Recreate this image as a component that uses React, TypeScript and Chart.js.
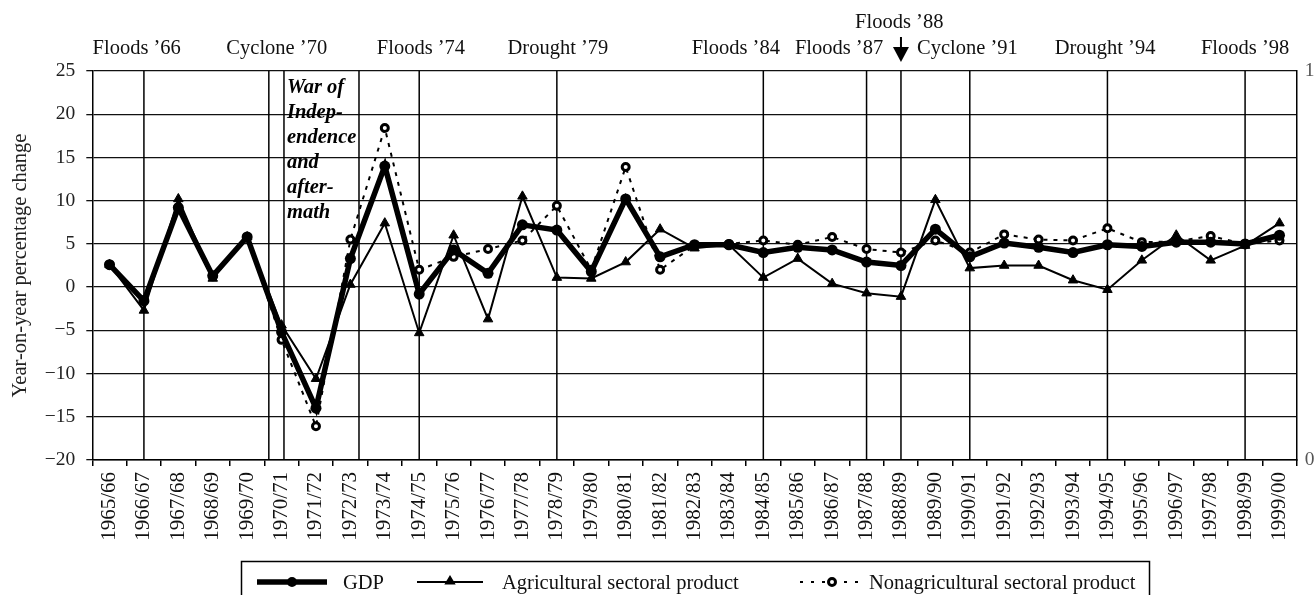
import React, { useEffect, useRef } from 'react';
import { Chart, registerables } from 'chart.js';

Chart.register(...registerables);

// ---------- data ----------
const categories = [
  '1965/66', '1966/67', '1967/68', '1968/69', '1969/70', '1970/71', '1971/72',
  '1972/73', '1973/74', '1974/75', '1975/76', '1976/77', '1977/78', '1978/79',
  '1979/80', '1980/81', '1981/82', '1982/83', '1983/84', '1984/85', '1985/86',
  '1986/87', '1987/88', '1988/89', '1989/90', '1990/91', '1991/92', '1992/93',
  '1993/94', '1994/95', '1995/96', '1996/97', '1997/98', '1998/99', '1999/00',
];

const gdp = [
  2.6, -1.6, 9.2, 1.3, 5.8, -5.2, -14.0, 3.3, 14.0, -0.8, 4.3, 1.6, 7.2, 6.6,
  1.8, 10.2, 3.5, 4.9, 4.9, 4.0, 4.6, 4.3, 2.9, 2.5, 6.7, 3.5, 5.1, 4.6, 4.0,
  4.9, 4.7, 5.2, 5.2, 5.0, 6.0,
];

const agricultural = [
  2.6, -2.7, 10.2, 1.0, 5.8, -4.4, -10.6, 0.3, 7.4, -5.3, 6.0, -3.7, 10.5, 1.1,
  1.0, 2.9, 6.7, 4.5, 4.9, 1.1, 3.3, 0.4, -0.7, -1.1, 10.1, 2.2, 2.5, 2.5, 0.8,
  -0.3, 3.1, 6.0, 3.1, 4.8, 7.4,
];

const nonagricultural = [
  2.6, -1.5, 9.2, 1.3, 5.8, -6.1, -16.1, 5.5, 18.4, 2.0, 3.5, 4.4, 5.4, 9.4,
  2.0, 13.9, 2.0, 4.8, 5.0, 5.4, 4.9, 5.8, 4.4, 4.0, 5.4, 4.0, 6.1, 5.5, 5.4,
  6.8, 5.2, 5.3, 5.9, 5.0, 5.4,
];

const seriesNames = ['GDP', 'Agricultural sectoral product', 'Nonagricultural sectoral product'];

const yMin = -20;
const yMax = 25;
const yStep = 5;

// events: label text, (fractional) category index of the vertical line, label centre index, row
const eventLabels = [
  'Floods ’66', 'Cyclone ’70', 'Floods ’74', 'Drought ’79', 'Floods ’84',
  'Floods ’87', 'Floods ’88', 'Cyclone ’91', 'Drought ’94', 'Floods ’98',
];
const eventLineIndex = [1, 4.63, 9, 13, 19, 22, 23, 25, 29, 33];
const eventLabelIndex = [0.79, 4.86, 9.05, 13.03, 18.2, 21.2, 22.95, 24.93, 28.93, 33.0];
const eventLabelRow = [1, 1, 1, 1, 1, 1, 0, 1, 1, 1];
const arrowEventIndex = 23;

const warLineIndex = [5.07, 7.25];
const warText = ['War of', 'Indep-', 'endence', 'and', 'after-', 'math'];

const FONT = '"Liberation Serif", "Times New Roman", serif';

function drawTriangle(ctx: CanvasRenderingContext2D, cx: number, cy: number, r: number) {
  ctx.beginPath();
  ctx.moveTo(cx, cy - r);
  ctx.lineTo(cx + r * 0.95, cy + r * 0.6);
  ctx.lineTo(cx - r * 0.95, cy + r * 0.6);
  ctx.closePath();
  ctx.fill();
}

const annotationPlugin = {
  id: 'annotations',
  beforeDatasetsDraw(chart: any) {
    const { ctx, chartArea, scales } = chart;
    const xs = scales.x;
    ctx.save();
    ctx.strokeStyle = '#000';
    ctx.lineWidth = 1.5;
    [...eventLineIndex, ...warLineIndex].forEach((v) => {
      const px = xs.getPixelForValue(v);
      ctx.beginPath();
      ctx.moveTo(px, chartArea.top);
      ctx.lineTo(px, chartArea.bottom);
      ctx.stroke();
    });
    ctx.fillStyle = '#000';
    ctx.font = `italic bold 20.5px ${FONT}`;
    ctx.textAlign = 'left';
    ctx.textBaseline = 'middle';
    const wx = xs.getPixelForValue(warLineIndex[0]) + 3;
    warText.forEach((t, i) => ctx.fillText(t, wx, chartArea.top + 17 + i * 25));
    ctx.restore();
  },
  afterDraw(chart: any) {
    const { ctx, chartArea, scales } = chart;
    const xs = scales.x;
    ctx.save();
    ctx.fillStyle = '#111';
    ctx.strokeStyle = '#000';
    // event labels
    ctx.font = `20.5px ${FONT}`;
    ctx.textAlign = 'center';
    ctx.textBaseline = 'middle';
    eventLabels.forEach((t, i) => {
      const px = xs.getPixelForValue(eventLabelIndex[i]);
      const py = eventLabelRow[i] === 0 ? chartArea.top - 48 : chartArea.top - 22;
      ctx.fillText(t, px, py);
    });
    // arrow for Floods '88
    const ax = xs.getPixelForValue(arrowEventIndex);
    ctx.fillStyle = '#000';
    ctx.lineWidth = 2;
    ctx.beginPath();
    ctx.moveTo(ax, chartArea.top - 34);
    ctx.lineTo(ax, chartArea.top - 22);
    ctx.stroke();
    ctx.beginPath();
    ctx.moveTo(ax - 8, chartArea.top - 24);
    ctx.lineTo(ax + 8, chartArea.top - 24);
    ctx.lineTo(ax, chartArea.top - 9);
    ctx.closePath();
    ctx.fill();

    // y-axis title
    ctx.save();
    ctx.fillStyle = '#222';
    ctx.font = `20.5px ${FONT}`;
    ctx.translate(20.5, (chartArea.top + chartArea.bottom) / 2 + 0);
    ctx.rotate(-Math.PI / 2);
    ctx.textAlign = 'center';
    ctx.textBaseline = 'middle';
    ctx.fillText('Year-on-year percentage change', 0, 0);
    ctx.restore();

    // legend
    const ly = 582;
    ctx.lineWidth = 1.5;
    ctx.strokeStyle = '#000';
    ctx.strokeRect(241.5, 561.5, 908, 50);
    ctx.fillStyle = '#000';
    // GDP swatch
    ctx.lineWidth = 5.5;
    ctx.beginPath();
    ctx.moveTo(257, ly);
    ctx.lineTo(327, ly);
    ctx.stroke();
    ctx.beginPath();
    ctx.arc(292, ly, 5, 0, Math.PI * 2);
    ctx.fill();
    // Agri swatch
    ctx.lineWidth = 2;
    ctx.beginPath();
    ctx.moveTo(417, ly);
    ctx.lineTo(483, ly);
    ctx.stroke();
    drawTriangle(ctx, 450, ly - 1, 6);
    // Nonagri swatch
    ctx.setLineDash([3, 8]);
    ctx.beginPath();
    ctx.moveTo(800, ly);
    ctx.lineTo(864, ly);
    ctx.stroke();
    ctx.setLineDash([]);
    ctx.beginPath();
    ctx.arc(832, ly, 3.5, 0, Math.PI * 2);
    ctx.fillStyle = '#fff';
    ctx.fill();
    ctx.lineWidth = 3;
    ctx.stroke();
    // legend texts
    ctx.fillStyle = '#111';
    ctx.font = `20.5px ${FONT}`;
    ctx.textAlign = 'left';
    ctx.textBaseline = 'middle';
    ctx.fillText(seriesNames[0], 343, ly + 2);
    ctx.fillText(seriesNames[1], 502, ly + 2);
    ctx.fillText(seriesNames[2], 869, ly + 2);
    ctx.restore();
  },
};

export default function App() {
  const canvasRef = useRef<HTMLCanvasElement | null>(null);

  useEffect(() => {
    if (!canvasRef.current) return;
    const chart = new Chart(canvasRef.current, {
      type: 'line',
      data: {
        labels: categories,
        datasets: [
          {
            label: seriesNames[0],
            data: gdp,
            borderColor: '#000',
            borderWidth: 5.5,
            pointRadius: 5.5,
            pointBackgroundColor: '#000',
            pointBorderColor: '#000',
            pointBorderWidth: 0,
            pointStyle: 'circle',
            tension: 0,
            yAxisID: 'y',
          },
          {
            label: seriesNames[1],
            data: agricultural,
            borderColor: '#000',
            borderWidth: 2,
            pointRadius: 5.5,
            pointStyle: 'triangle',
            pointBackgroundColor: '#000',
            pointBorderColor: '#000',
            pointBorderWidth: 1,
            tension: 0,
            yAxisID: 'y',
          },
          {
            label: seriesNames[2],
            data: nonagricultural,
            borderColor: '#000',
            borderWidth: 2,
            borderDash: [4, 6],
            pointRadius: 3.5,
            pointStyle: 'circle',
            pointBackgroundColor: '#fff',
            pointBorderColor: '#000',
            pointBorderWidth: 3,
            tension: 0,
            yAxisID: 'y',
          },
        ],
      },
      options: {
        responsive: false,
        animation: false,
        layout: { padding: { top: 71, left: 0, right: 0, bottom: 0 } },
        plugins: {
          legend: { display: false },
          tooltip: { enabled: false },
        },
        scales: {
          x: {
            type: 'category',
            offset: true,
            grid: {
              display: true,
              drawOnChartArea: false,
              drawTicks: true,
              tickLength: 6,
              offset: true,
              color: '#000',
              lineWidth: 1.5,
            },
            border: { display: true, color: '#000', width: 1.5 },
            ticks: {
              autoSkip: false,
              maxRotation: 90,
              minRotation: 90,
              padding: 6,
              color: '#111',
              font: { family: FONT, size: 21 },
            },
            afterFit: (scale: any) => {
              scale.height = 135;
            },
          },
          y: {
            type: 'linear',
            position: 'left',
            min: yMin,
            max: yMax,
            ticks: {
              stepSize: yStep,
              padding: 11,
              color: '#222',
              font: { family: FONT, size: 19.5 },
              callback: (v: any) => String(v).replace('-', '\u2212'),
            },
            grid: {
              color: '#111',
              lineWidth: 1.3,
              tickLength: 6,
              drawTicks: true,
            },
            border: { display: true, color: '#000', width: 1.5 },
            afterFit: (scale: any) => {
              scale.width = 92.3;
            },
          },
          y2: {
            type: 'linear',
            position: 'right',
            min: 0,
            max: 1,
            ticks: {
              stepSize: 1,
              padding: 8,
              color: '#555',
              font: { family: FONT, size: 19.5 },
            },
            grid: { drawOnChartArea: false, drawTicks: false },
            border: { display: true, color: '#000', width: 1.5 },
            afterFit: (scale: any) => {
              scale.width = 17.3;
            },
          },
        },
      },
      plugins: [annotationPlugin],
    });
    return () => chart.destroy();
  }, []);

  return (
    <div style={{ position: 'fixed', left: 0, top: 0, width: 1314, height: 595, background: '#fff' }}>
      <canvas ref={canvasRef} width={1314} height={595} style={{ display: 'block' }} />
    </div>
  );
}
